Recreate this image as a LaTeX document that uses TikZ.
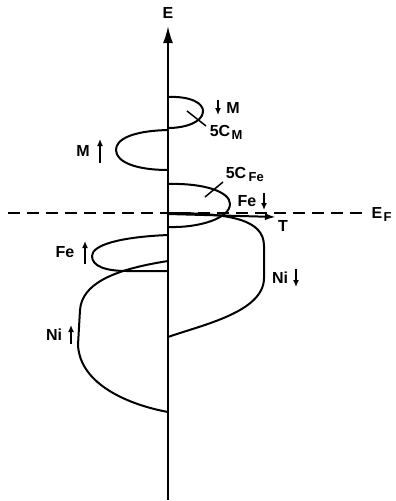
\documentclass[tikz,border=0pt]{standalone}
\usepackage{fontspec}
\setmainfont{Liberation Sans}
\usetikzlibrary{arrows.meta}
\tikzset{
  curve/.style={line width=2pt, line join=round, line cap=round},
  lbl/.style={inner sep=0pt, font=\fontsize{16}{18}\selectfont\bfseries},
  sublbl/.style={inner sep=0pt, font=\fontsize{13}{15}\selectfont\bfseries},
  spinarr/.style={line width=2.2pt, -{Latex[length=7pt,width=6pt]}}
}
\begin{document}
\begin{tikzpicture}[x=1pt,y=-1pt]
\useasboundingbox (0,0) rectangle (396,501);
% axis
\coordinate (axb) at (168,500);
\coordinate (axt) at (168,26);
\draw[line width=2pt, -{Latex[length=17pt,width=10pt]}] (axb) -- (axt);
\node[lbl] (E) at (168,13) {E};
% Fermi level
\coordinate (efl) at (8,213);
\coordinate (efr) at (367,213);
\draw[line width=2pt, dash pattern=on 12pt off 7pt] (efl) -- (efr);
\node[lbl] (EF) at (377,213) {E};
\node[sublbl, anchor=west] (EFs) at ([xshift=1pt,yshift=-4pt]EF.east) {F};
% T arrow
\coordinate (t0) at (168,214);
\coordinate (t1) at (276,217);
\draw[line width=2pt, -{Latex[length=11pt,width=7pt]}] (t0) -- (t1);
\node[lbl] (T) at (283,226) {T};
% M down loop (right)
\draw[curve] (168,97) .. controls (190,96) and (204,103) .. (203,112)
   .. controls (202,122) and (186,128) .. (168,128);
% M up loop (left)
\draw[curve] (168,130) .. controls (130,131) and (116,140) .. (116,150)
   .. controls (116,162) and (136,170) .. (168,170);
% Fe down loop (right)
\draw[curve] (168,184) .. controls (205,183) and (230,192) .. (230,204)
   .. controls (230,218) and (200,228) .. (168,227);
% Ni down
\draw[curve] (168,213) .. controls (232,213) and (264,220) .. (264,246)
   -- (264,278) .. controls (264,312) and (202,325) .. (168,337);
% Fe up loop (left)
\draw[curve] (168,235) .. controls (120,237) and (92,245) .. (92,256)
   .. controls (92,266) and (105,271) .. (127,271) -- (168,271);
% Ni up
\draw[curve] (168,261) .. controls (110,270) and (82,285) .. (80,310)
   -- (78,345) .. controls (80,385) and (130,405) .. (168,412);
% leader lines
\coordinate (cm0) at (187,111);
\coordinate (cm1) at (206,126);
\draw[line width=1.5pt] (cm0) -- (cm1);
\coordinate (cf0) at (205,197);
\coordinate (cf1) at (223,182);
\draw[line width=1.5pt] (cf0) -- (cf1);
% labels
\coordinate (mda) at (218,100);
\coordinate (mdb) at (218,115);
\draw[spinarr] (mda) -- (mdb);
\node[lbl] (Md) at (233,108) {M};
\node[lbl] (C5M) at (220,131) {5C};
\node[sublbl, anchor=west] (C5Ms) at ([xshift=1pt,yshift=-4pt]C5M.east) {M};
\node[lbl] (Mu) at (83,151) {M};
\coordinate (mua) at (100,163);
\coordinate (mub) at (100,139);
\draw[spinarr] (mua) -- (mub);
\node[lbl] (C5F) at (236,173) {5C};
\node[sublbl, anchor=west] (C5Fs) at ([xshift=2pt,yshift=-4pt]C5F.east) {Fe};
\node[lbl] (Fed) at (247,201) {Fe};
\coordinate (fda) at (264,193);
\coordinate (fdb) at (264,210);
\draw[spinarr] (fda) -- (fdb);
\node[lbl] (Feu) at (65,252) {Fe};
\coordinate (fua) at (85,264);
\coordinate (fub) at (85,241);
\draw[spinarr] (fua) -- (fub);
\node[lbl] (Nid) at (280,278) {Ni};
\coordinate (nda) at (296,269);
\coordinate (ndb) at (296,287);
\draw[spinarr] (nda) -- (ndb);
\node[lbl] (Niu) at (54,335) {Ni};
\coordinate (nua) at (71,344);
\coordinate (nub) at (71,325);
\draw[spinarr] (nua) -- (nub);
\end{tikzpicture}
\end{document}
